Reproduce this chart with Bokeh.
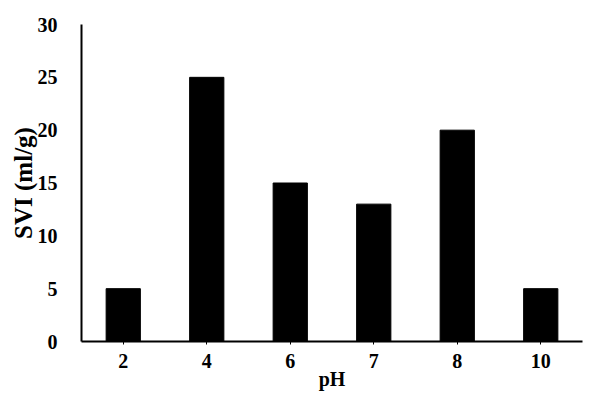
from bokeh.plotting import figure
from bokeh.models import FactorRange, Range1d, FixedTicker
from bokeh.embed import file_html
from bokeh.resources import INLINE

categories = ["2", "4", "6", "7", "8", "10"]
svi = [5, 25, 15, 13, 20, 5]
y_ticks = [0, 5, 10, 15, 20, 25, 30]

FONT = "Liberation Serif"

p = figure(width=583, height=393, output_backend="svg", toolbar_location=None,
           x_range=FactorRange(*categories, range_padding=0), y_range=Range1d(0, 30),
           min_border_left=81, min_border_right=1, min_border_top=24, min_border_bottom=52)
p.vbar(x=categories, top=svi, width=0.41, fill_color="black", line_color="black")

p.outline_line_color = None
p.xgrid.grid_line_color = None
p.ygrid.grid_line_color = None

for ax in (p.xaxis, p.yaxis):
    ax.axis_line_color = "black"
    ax.axis_line_width = 2
    ax.major_label_text_font = FONT
    ax.major_label_text_font_style = "bold"
    ax.major_label_text_font_size = "20px"
    ax.major_label_text_color = "black"
    ax.axis_label_text_font = FONT
    ax.axis_label_text_font_style = "bold"
    ax.axis_label_text_font_size = "20px"
    ax.axis_label_text_color = "black"
    ax.minor_tick_line_color = None

p.yaxis.ticker = FixedTicker(ticks=y_ticks)
p.yaxis.major_tick_line_color = None
p.yaxis.major_label_standoff = 18
p.yaxis.axis_label = "SVI (ml/g)"
p.yaxis.axis_label_text_font_size = "25px"
p.yaxis.axis_label_standoff = -2

p.xaxis.major_tick_in = 0
p.xaxis.major_tick_out = 3
p.xaxis.major_tick_line_color = "black"
p.xaxis.major_tick_line_width = 1
p.xaxis.major_label_standoff = 9
p.xaxis.axis_label = "pH"
p.xaxis.axis_label_standoff = -3

open("out.html", "w").write(file_html(p, INLINE))
